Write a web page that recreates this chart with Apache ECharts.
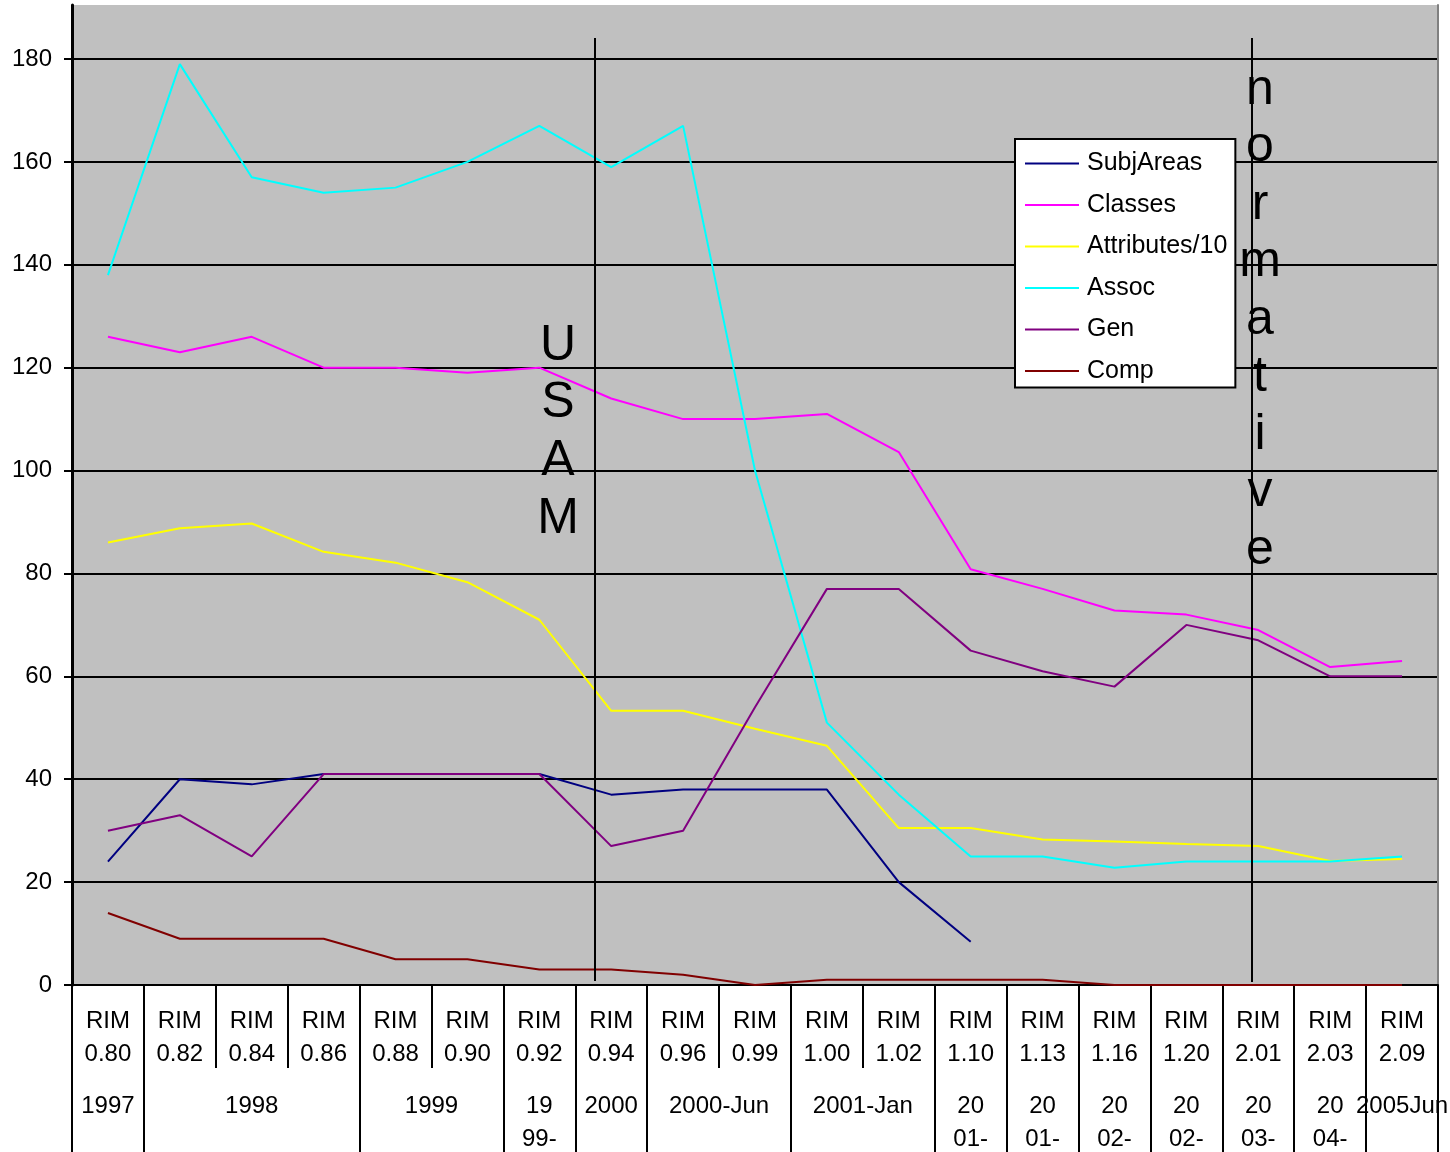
<!DOCTYPE html>
<html>
<head>
<meta charset="utf-8">
<title>RIM model size by release</title>
<script src="https://cdn.jsdelivr.net/npm/echarts@6/dist/echarts.min.js"></script>
<style>
  html, body { margin: 0; padding: 0; background: #ffffff; }
  #chart { width: 1450px; height: 1152px; }
</style>
</head>
<body>
<div id="chart"></div>
<script>
// RIM releases (one category per release)
const releases = ['RIM 0.80', 'RIM 0.82', 'RIM 0.84', 'RIM 0.86', 'RIM 0.88', 'RIM 0.90', 'RIM 0.92',
  'RIM 0.94', 'RIM 0.96', 'RIM 0.99', 'RIM 1.00', 'RIM 1.02', 'RIM 1.10', 'RIM 1.13', 'RIM 1.16',
  'RIM 1.20', 'RIM 2.01', 'RIM 2.03', 'RIM 2.09'];

// Release periods and how many releases each period covers
const periodLabels = ['1997', '1998', '1999', '19\n99-', '2000', '2000-Jun', '2001-Jan',
  '20\n01-', '20\n01-', '20\n02-', '20\n02-', '20\n03-', '20\n04-', '2005Jun'];
const periodSpans = [1, 3, 2, 1, 1, 2, 2, 1, 1, 1, 1, 1, 1, 1];

// Counts per release
const subjAreas = [24, 40, 39, 41, 41, 41, 41, 37, 38, 38, 38, 20, 8.4, null, null, null, null, null, null];
const classes = [126, 123, 126, 120, 120, 119, 120, 114, 110, 110, 111, 103.6, 80.8, 77, 72.8, 72, 69, 61.8, 63];
const attributes10 = [86, 88.8, 89.7, 84.2, 82.1, 78.3, 71, 53.3, 53.3, 49.8, 46.5, 30.5, 30.5, 28.3, 27.9, 27.4, 27, 24.1, 24.5];
const assoc = [138, 179, 157, 154, 155, 160, 167, 159, 167, 100, 51, 37, 25, 25, 22.8, 24, 24, 24, 25];
const gen = [30, 33, 25, 41, 41, 41, 41, 27, 30, 54, 77, 77, 65, 61, 58, 70, 67, 60, 60];
const comp = [14, 9, 9, 9, 5, 5, 3, 3, 2, 0, 1, 1, 1, 1, 0, 0, 0, 0, 0];

// Y axis tick values
const yTicks = [0, 20, 40, 60, 80, 100, 120, 140, 160, 180];

// Milestone dividers, in release-index units along the period axis
const usamDivider = 7.27;
const normativeDivider = 16.41;

const FONT = '"Liberation Sans", Arial, sans-serif';

// Period boundaries and label centres derived from the spans
const periodBounds = [0];
periodSpans.forEach(function (s) { periodBounds.push(periodBounds[periodBounds.length - 1] + s); });
const periodCenters = periodSpans.map(function (s, i) { return periodBounds[i] + s / 2; });

const seriesDefs = [
  { name: 'SubjAreas', data: subjAreas, color: '#000080' },
  { name: 'Classes', data: classes, color: '#FF00FF' },
  { name: 'Attributes/10', data: attributes10, color: '#FFFF00' },
  { name: 'Assoc', data: assoc, color: '#00FFFF' },
  { name: 'Gen', data: gen, color: '#800080' },
  { name: 'Comp', data: comp, color: '#800000' }
];

const dataSeries = seriesDefs.map(function (d) {
  return {
    name: d.name,
    type: 'line',
    xAxisIndex: 0,
    yAxisIndex: 0,
    data: d.data,
    showSymbol: false,
    symbol: 'none',
    connectNulls: false,
    color: d.color,
    lineStyle: { color: d.color, width: 2 },
    itemStyle: { color: d.color },
    z: 3
  };
});

function divider(pos, top, bottom) {
  return [{ coord: [pos, top] }, { coord: [pos, bottom] }];
}

const dividerSeries = {
  type: 'line',
  xAxisIndex: 1,
  yAxisIndex: 0,
  data: [],
  silent: true,
  z: 4,
  markLine: {
    silent: true,
    symbol: ['none', 'none'],
    label: { show: false },
    lineStyle: { color: '#000000', width: 2, type: 'solid' },
    emphasis: { disabled: true },
    data: [divider(usamDivider, 184.1, 0.8), divider(normativeDivider, 184.1, 0.6)]
  }
};

const chart = echarts.init(document.getElementById('chart'), null, { renderer: 'canvas' });

chart.setOption({
  animation: false,
  backgroundColor: '#ffffff',
  textStyle: { fontFamily: FONT },
  grid: {
    left: 72, right: 12, top: 5, bottom: 167,
    outerBoundsMode: 'none',
    containLabel: false,
    show: true,
    backgroundColor: '#C0C0C0',
    borderWidth: 0
  },
  legend: {
    data: seriesDefs.map(function (d) { return d.name; }),
    orient: 'vertical',
    left: 1015,
    top: 139,
    padding: [12, 8, 4, 10],
    itemGap: 16.5,
    itemWidth: 54,
    itemHeight: 2,
    icon: 'rect',
    backgroundColor: '#ffffff',
    borderColor: '#000000',
    borderWidth: 2,
    borderRadius: 0,
    selectedMode: false,
    textStyle: { fontFamily: FONT, fontSize: 25, color: '#000000', padding: [0, 0, 0, 3] }
  },
  xAxis: [
    {
      type: 'category',
      position: 'bottom',
      data: releases,
      boundaryGap: true,
      axisLine: { show: true, lineStyle: { color: '#000000', width: 2 } },
      axisTick: { show: true, interval: 0, length: 83, lineStyle: { color: '#000000', width: 2 } },
      axisLabel: {
        interval: 0,
        margin: 20,
        fontFamily: FONT,
        fontSize: 24,
        lineHeight: 33,
        color: '#000000',
        align: 'center',
        formatter: function (v) { return v.replace(' ', '\n'); }
      },
      splitLine: { show: false }
    },
    {
      type: 'value',
      position: 'bottom',
      min: 0,
      max: releases.length,
      axisLine: { show: false },
      axisTick: {
        show: true,
        customValues: periodBounds,
        length: 168,
        lineStyle: { color: '#000000', width: 2 }
      },
      axisLabel: {
        show: true,
        customValues: periodCenters,
        margin: 105,
        fontFamily: FONT,
        fontSize: 24,
        lineHeight: 33,
        color: '#000000',
        align: 'center',
        formatter: function (v) {
          let best = 0;
          periodCenters.forEach(function (c, i) {
            if (Math.abs(c - v) < Math.abs(periodCenters[best] - v)) best = i;
          });
          return periodLabels[best];
        }
      },
      splitLine: { show: false }
    }
  ],
  yAxis: [
    {
      type: 'value',
      position: 'left',
      min: 0,
      max: 190.5,
      axisLine: { show: true, lineStyle: { color: '#000000', width: 3 } },
      axisTick: { show: true, customValues: yTicks, length: 8, lineStyle: { color: '#000000', width: 2 } },
      axisLabel: {
        customValues: yTicks,
        margin: 20,
        fontFamily: FONT,
        fontSize: 24,
        color: '#000000'
      },
      splitLine: { show: true, lineStyle: { color: '#000000', width: 2 } }
    },
    {
      type: 'value',
      position: 'right',
      min: 0,
      max: 190.5,
      axisLine: { show: true, lineStyle: { color: '#808080', width: 2 } },
      axisTick: { show: false },
      axisLabel: { show: false },
      splitLine: { show: false }
    }
  ],
  graphic: [
    {
      type: 'text',
      z: 10,
      style: {
        text: 'U\nS\nA\nM',
        x: 558,
        y: 317,
        textAlign: 'center',
        textVerticalAlign: 'top',
        fontFamily: FONT,
        fontSize: 50,
        lineHeight: 57.7,
        fill: '#000000'
      }
    },
    {
      type: 'text',
      z: 10,
      style: {
        text: 'n\no\nr\nm\na\nt\ni\nv\ne',
        x: 1260,
        y: 61,
        textAlign: 'center',
        textVerticalAlign: 'top',
        fontFamily: FONT,
        fontSize: 50,
        lineHeight: 57.5,
        fill: '#000000'
      }
    }
  ],
  series: dataSeries.concat([dividerSeries])
});
</script>
</body>
</html>
